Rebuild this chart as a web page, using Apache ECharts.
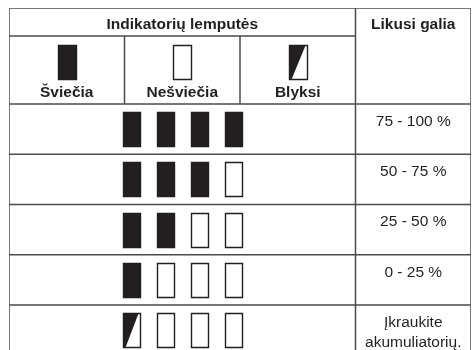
<!DOCTYPE html>
<html>
<head>
<meta charset="utf-8">
<script src="https://cdn.jsdelivr.net/npm/echarts@6/dist/echarts.min.js"></script>
<style>
html,body{margin:0;padding:0;background:#fff;}
#chart{width:474px;height:350px;}
</style>
</head>
<body>
<div id="chart"></div>
<script>
// ---- data ----
var groupTitle = "Indikatorių lemputės";
var levelTitle = "Likusi galia";
var legendLabels = ["Šviečia", "Nešviečia", "Blyksi"];
var legendStates = ["on", "off", "blink"];
var levelLabels = ["75 - 100 %", "50 - 75 %", "25 - 50 %", "0 - 25 %", "Įkraukite\nakumuliatorių."];
var lampRows = [
  ["on", "on", "on", "on"],
  ["on", "on", "on", "off"],
  ["on", "on", "off", "off"],
  ["on", "off", "off", "off"],
  ["blink", "off", "off", "off"]
];

// ---- layout (table units: 1 column = 1 x-unit, 1 data row = 1 y-unit) ----
var ROW_EDGES = [0, 0.557, 1.91, 2.91, 3.91, 4.91, 5.91, 6.91];
var Y_MAX = 6.806;
var LAMP_STEP = 0.294;
var INK = "#231f20";
var RULE = "#4a4a4a";

// build line segments
var segs = [];
ROW_EDGES.forEach(function (y, i) {
  if (i === 1) segs.push([0, y, 3, y]);
  else segs.push([0, y, 4, y]);
});
segs.push([0, 0, 0, ROW_EDGES[7]]);
segs.push([4, 0, 4, ROW_EDGES[7]]);
segs.push([3, 0, 3, ROW_EDGES[7]]);
segs.push([1, ROW_EDGES[1], 1, ROW_EDGES[2]]);
segs.push([2, ROW_EDGES[1], 2, ROW_EDGES[2]]);

// lamps: [xCenter, yCenter, state, wPx]
var lamps = [];
legendStates.forEach(function (s, i) {
  lamps.push([i + 0.5, 1.075, s, 18]);
});
lampRows.forEach(function (row, r) {
  var yc = (ROW_EDGES[r + 2] + ROW_EDGES[r + 3]) / 2;
  row.forEach(function (s, i) {
    lamps.push([1.5 + (i - 1.5) * LAMP_STEP, yc, s, 17]);
  });
});

// texts: [x, y, text, kind]
var texts = [];
texts.push([1.5, 0.33, groupTitle, "head"]);
texts.push([3.5, 0.33, levelTitle, "head"]);
legendLabels.forEach(function (t, i) { texts.push([i + 0.5, 1.692, t, "head"]); });
levelLabels.forEach(function (t, r) { texts.push([3.5, ROW_EDGES[r + 2] + 0.15, t, "body"]); });

var chart = echarts.init(document.getElementById('chart'), null, {renderer: 'canvas'});
chart.setOption({
  animation: false,
  backgroundColor: '#fff',
  grid: {left: 9, right: 3, top: 8, bottom: 0},
  xAxis: {type: 'value', min: 0, max: 4, show: false},
  yAxis: {type: 'value', min: 0, max: Y_MAX, inverse: true, show: false},
  series: [
    {
      type: 'custom',
      clip: true,
      data: segs,
      renderItem: function (params, api) {
        var a = api.coord([api.value(0), api.value(1)]);
        var b = api.coord([api.value(2), api.value(3)]);
        return {
          type: 'line',
          shape: {x1: a[0], y1: a[1], x2: b[0], y2: b[1]},
          style: {stroke: RULE, lineWidth: 1.5}
        };
      }
    },
    {
      type: 'custom',
      data: lamps,
      encode: {x: 0, y: 1},
      renderItem: function (params, api) {
        var d = lamps[params.dataIndex];
        var c = api.coord([d[0], d[1]]);
        var w = d[3], h = 34;
        var x = Math.round(c[0] - w / 2) + 0.5, y = Math.round(c[1] - h / 2) + 0.5;
        var state = d[2];
        if (state === 'blink') {
          return {
            type: 'group',
            children: [
              {type: 'rect', shape: {x: x, y: y, width: w, height: h}, style: {fill: '#fff', stroke: INK, lineWidth: 1.4}},
              {type: 'polygon', shape: {points: [[x, y], [x + w - 2, y], [x + 2, y + h], [x, y + h]]}, style: {fill: INK}}
            ]
          };
        }
        return {
          type: 'rect',
          shape: {x: x, y: y, width: w, height: h},
          style: {fill: state === 'on' ? INK : '#fff', stroke: INK, lineWidth: 1.4}
        };
      }
    },
    {
      type: 'custom',
      data: texts,
      encode: {x: 0, y: 1},
      renderItem: function (params, api) {
        var d = texts[params.dataIndex];
        var c = api.coord([d[0], d[1]]);
        var head = d[3] === 'head';
        return {
          type: 'text',
          style: {
            x: c[0], y: c[1],
            text: d[2],
            fill: INK,
            font: head ? 'bold 15.5px "Liberation Sans", Arial, sans-serif' : '15.5px "Liberation Sans", Arial, sans-serif',
            align: 'center',
            verticalAlign: head ? 'middle' : 'top',
            lineHeight: 20
          }
        };
      }
    }
  ]
});
</script>
</body>
</html>
